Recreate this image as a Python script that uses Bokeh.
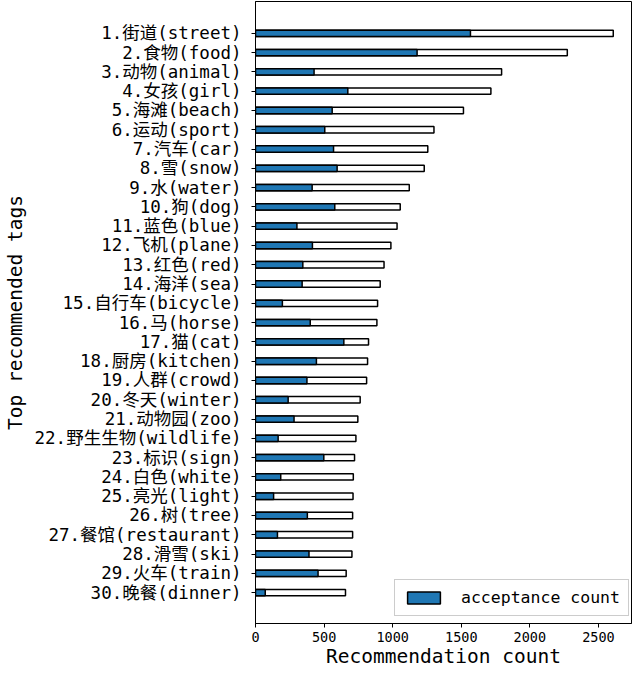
from bokeh.plotting import figure
from bokeh.models import Range1d, FixedTicker, Legend, LegendItem, ColumnDataSource
from bokeh.embed import file_html
from bokeh.resources import INLINE

tags = ["1.街道(street)", "2.食物(food)", "3.动物(animal)", "4.女孩(girl)", "5.海滩(beach)",
        "6.运动(sport)", "7.汽车(car)", "8.雪(snow)", "9.水(water)", "10.狗(dog)",
        "11.蓝色(blue)", "12.飞机(plane)", "13.红色(red)", "14.海洋(sea)", "15.自行车(bicycle)",
        "16.马(horse)", "17.猫(cat)", "18.厨房(kitchen)", "19.人群(crowd)", "20.冬天(winter)",
        "21.动物园(zoo)", "22.野生生物(wildlife)", "23.标识(sign)", "24.白色(white)", "25.亮光(light)",
        "26.树(tree)", "27.餐馆(restaurant)", "28.滑雪(ski)", "29.火车(train)", "30.晚餐(dinner)"]
recommendation = [2608, 2273, 1794, 1716, 1516, 1301, 1256, 1230, 1121, 1055,
                  1032, 987, 937, 909, 890, 885, 824, 817, 810, 763,
                  746, 732, 722, 713, 711, 708, 708, 703, 661, 656]
acceptance = [1567, 1178, 427, 673, 559, 505, 569, 595, 413, 578,
              302, 415, 345, 340, 196, 399, 644, 444, 375, 238,
              281, 165, 498, 184, 132, 378, 160, 390, 456, 71]
rank = list(range(1, 31))
xticks = [0, 500, 1000, 1500, 2000, 2500]

FONT = "'DejaVu Sans Mono', 'Noto Sans CJK SC'"

src = ColumnDataSource(dict(y=rank, rec=recommendation, acc=acceptance))

p = figure(width=632, height=670, output_backend="svg", toolbar_location=None,
           x_range=Range1d(0, 2741), y_range=Range1d(31.6, -0.65),
           min_border_left=251, min_border_right=1, min_border_top=1, min_border_bottom=40)

p.hbar(y="y", right="rec", left=0, height=0.33, source=src,
       fill_color="white", line_color="black", line_width=1.5)
r_acc = p.hbar(y="y", right="acc", left=0, height=0.33, source=src,
               fill_color="#1f77b4", line_color="black", line_width=1.5)

p.xgrid.visible = False
p.ygrid.visible = False
p.outline_line_color = "black"
p.outline_line_alpha = 1
p.outline_line_width = 1

for ax in (p.xaxis, p.yaxis):
    ax.axis_line_color = "black"
    ax.major_tick_line_color = "black"
    ax.minor_tick_line_color = None
    ax.major_tick_in = 0
    ax.major_tick_out = 4
    ax.major_label_text_color = "black"
    ax.major_label_text_font = FONT
    ax.axis_label_text_font = FONT
    ax.axis_label_text_font_style = "normal"
    ax.axis_label_text_color = "black"
    ax.axis_label_text_font_size = "19.5px"

p.xaxis.ticker = FixedTicker(ticks=xticks)
p.xaxis.major_label_text_font_size = "13.5px"
p.xaxis.major_label_standoff = 4
p.xaxis.axis_label = "Recommendation count"
p.xaxis.axis_label_standoff = 0

p.yaxis.ticker = FixedTicker(ticks=rank)
p.yaxis.major_label_overrides = {i: t for i, t in zip(rank, tags)}
p.yaxis.major_label_text_font_size = "17.5px"
p.yaxis.major_label_standoff = 10
p.yaxis.axis_label = "Top recommended tags"
p.yaxis.axis_label_standoff = 5

legend = Legend(items=[LegendItem(label="acceptance count", renderers=[r_acc])],
                location=(139, 7), orientation="vertical",
                border_line_color="#cccccc", border_line_width=1, border_line_alpha=1,
                background_fill_color="white", background_fill_alpha=0.8,
                label_text_font=FONT, label_text_font_size="16.5px", label_text_color="black",
                glyph_width=41, glyph_height=15, label_height=15, label_standoff=17,
                padding=8, margin=0, spacing=0)
p.add_layout(legend)

open("out.html", "w").write(file_html(p, INLINE))
